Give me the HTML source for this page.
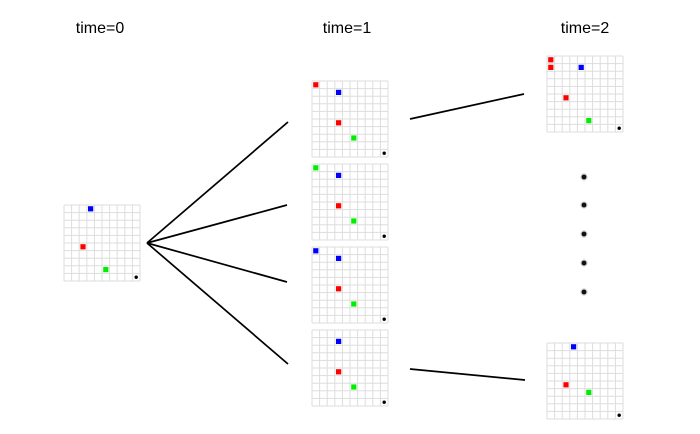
<!DOCTYPE html>
<html><head><meta charset="utf-8"><style>
html,body{margin:0;padding:0;background:#fff;}
svg{display:block;font-family:"Liberation Sans",sans-serif;}
</style></head><body>
<svg id="chart" width="700" height="434"></svg>
<script>
const titles = ["time=0","time=1","time=2"];
const titleX = [100,347,585];
// grid origins [x,y]
const gridOrigins = [[64,205],[312,81],[312,164],[312,247],[312,330],[547,56],[547,343]];
// items per grid: [col,row,color]
const gridItems = [
 [[3,0,"#0000ff"],[2,5,"#ff0000"],[5,8,"#00ee00"],[9,9,"k"]],
 [[0,0,"#ff0000"],[3,1,"#0000ff"],[3,5,"#ff0000"],[5,7,"#00ee00"],[9,9,"k"]],
 [[0,0,"#00ee00"],[3,1,"#0000ff"],[3,5,"#ff0000"],[5,7,"#00ee00"],[9,9,"k"]],
 [[0,0,"#0000ff"],[3,1,"#0000ff"],[3,5,"#ff0000"],[5,7,"#00ee00"],[9,9,"k"]],
 [[3,1,"#0000ff"],[3,5,"#ff0000"],[5,7,"#00ee00"],[9,9,"k"]],
 [[0,0,"#ff0000"],[0,1,"#ff0000"],[4,1,"#0000ff"],[2,5,"#ff0000"],[5,8,"#00ee00"],[9,9,"k"]],
 [[3,0,"#0000ff"],[2,5,"#ff0000"],[5,6,"#00ee00"],[9,9,"k"]]
];
const edges = [[147,243,288,122],[147,243,287,205],[147,243,287,282],[147,243,288,364],[410,119,524,94],[410,369,525,380]];
const ellipsisY = [177,205,234,263,292];
const NS="http://www.w3.org/2000/svg";
const svg=document.getElementById('chart');
function mk(t,a){const e=document.createElementNS(NS,t);for(const k in a)e.setAttribute(k,a[k]);svg.appendChild(e);return e;}
const N=10, S=76, C=S/N;
titles.forEach((t,i)=>{
 const e=mk('text',{x:titleX[i],y:33,'text-anchor':'middle','font-size':16,fill:'#000'});
 e.textContent=t;
 
 
});
gridOrigins.forEach((o,g)=>{
 for(let i=0;i<=N;i++){
  const v=mk('line',{x1:o[0]+i*C,y1:o[1],x2:o[0]+i*C,y2:o[1]+S,stroke:'#dddddd','stroke-width':1});
  
  
  const h=mk('line',{x1:o[0],y1:o[1]+i*C,x2:o[0]+S,y2:o[1]+i*C,stroke:'#dddddd','stroke-width':1});
  
  
 }
 gridItems[g].forEach(it=>{
  const cx=o[0]+it[0]*C+C/2, cy=o[1]+it[1]*C+C/2;
  let e;
  if(it[2]==='k'){ e=mk('circle',{cx:cx,cy:cy,r:1.7,fill:'#000'});  }
  else { e=mk('rect',{x:cx-2.6,y:cy-2.6,width:5.2,height:5.2,fill:it[2]});  }
  
 });
});
edges.forEach(d=>{
 const e=mk('line',{x1:d[0],y1:d[1],x2:d[2],y2:d[3],stroke:'#000','stroke-width':1.7});
 
 
});
ellipsisY.forEach(y=>{
 const h=mk('circle',{cx:584,cy:y,r:3.6,fill:'#999','fill-opacity':0.5});
 
 
 const e=mk('circle',{cx:584,cy:y,r:2.4,fill:'#111'});
 
 
});
</script>
</body></html>
